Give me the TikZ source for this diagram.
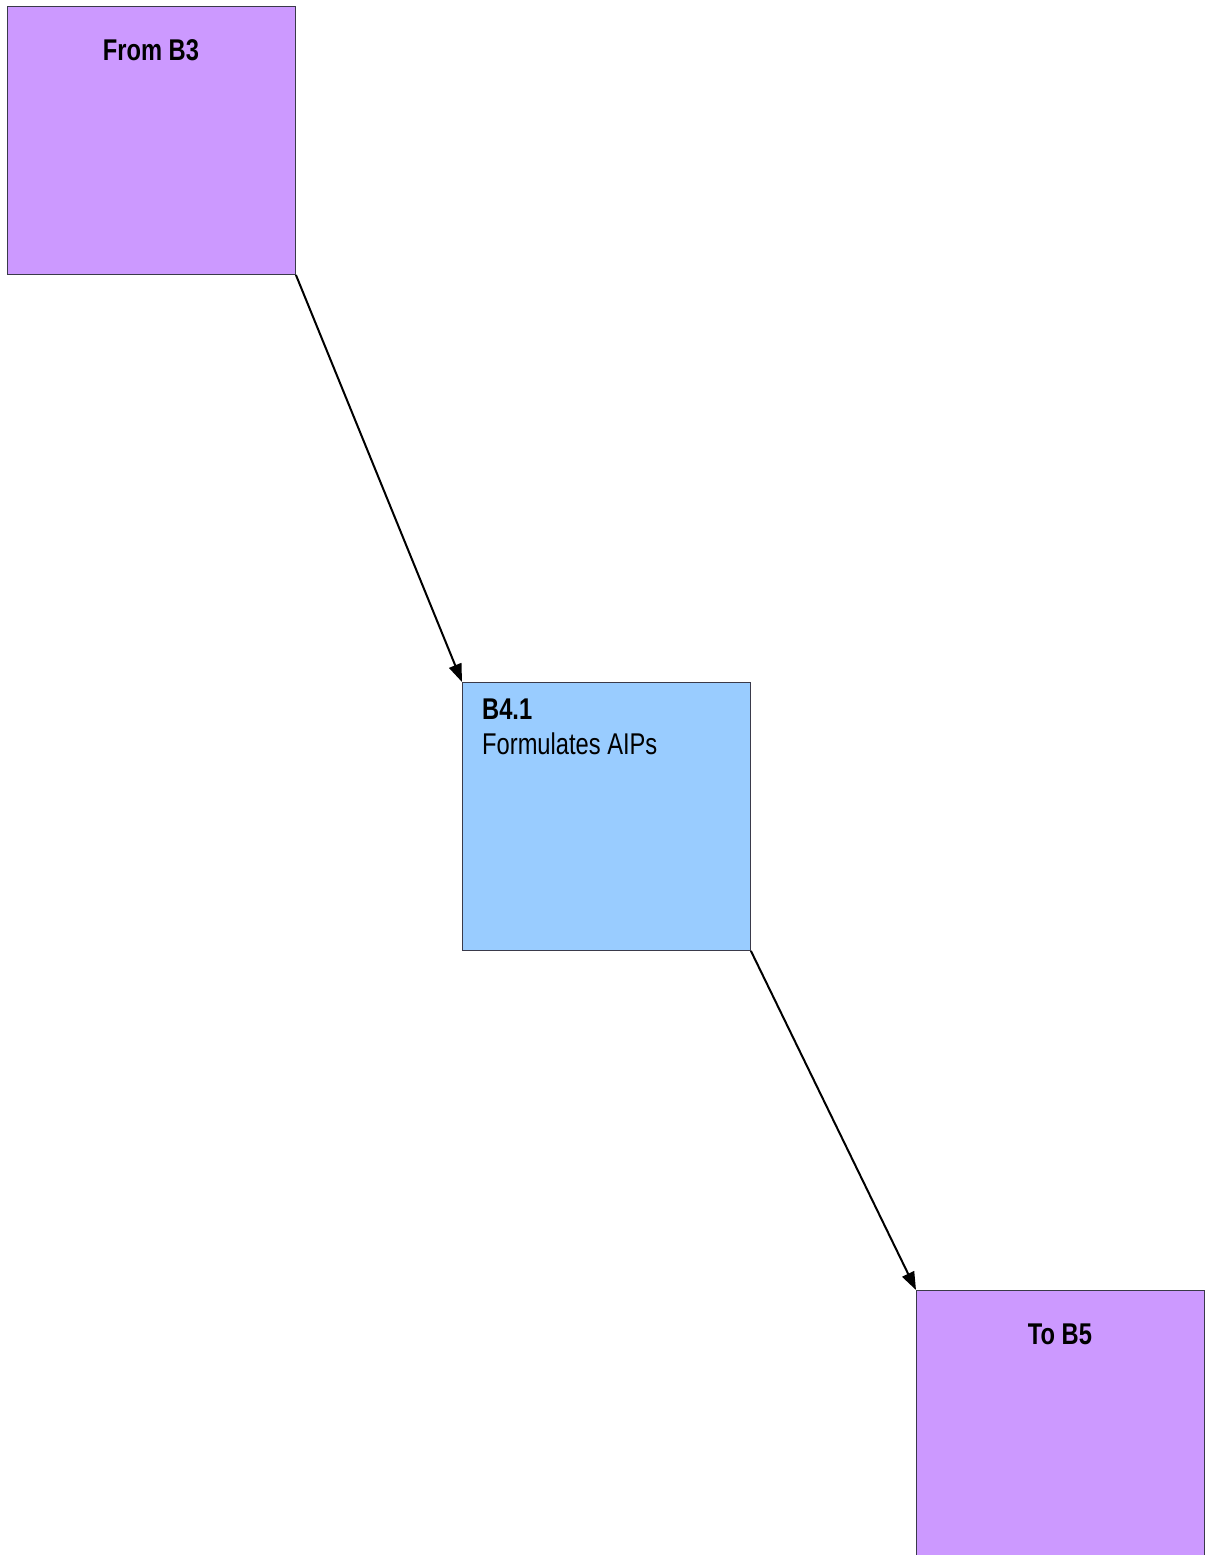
\documentclass[tikz,border=0pt]{standalone}
\usepackage{fontspec}
\newfontfamily\narrowsans{Liberation Sans}[FakeStretch=0.79]
\usepackage{tikz}
\usetikzlibrary{arrows.meta, positioning}

\definecolor{linkpurple}{HTML}{CC99FF}
\definecolor{stepblue}{HTML}{99CCFF}
\definecolor{edgegray}{HTML}{3A3A4A}

\tikzset{
  flowbox/.style={draw=edgegray, line width=0.9pt, rectangle,
                  minimum width=288pt, minimum height=268pt, inner sep=0pt, anchor=north west},
  boxtext/.style={inner sep=0pt, font=\narrowsans\fontsize{30}{36}\selectfont}
}

\begin{document}
\begin{tikzpicture}[>={Triangle[length=18pt, width=13pt]}, x=1pt, y=-1pt]
  \useasboundingbox (0,0) rectangle (1207,1555);

  % Incoming link
  \node[flowbox, fill=linkpurple] (fromb) at (7,6) {};
  \node[boxtext, anchor=base] (frombtext) at (151,61) {\bfseries From B3};

  % Process step
  \node[flowbox, fill=stepblue] (aips) at (462,682) {};
  \node[boxtext, anchor=base west] (aipsid) at (482,719) {\bfseries B4.1};
  \node[boxtext, anchor=base west] (aipsname) at (482,754) {Formulates AIPs};

  % Outgoing link
  \node[flowbox, fill=linkpurple] (tob) at (916,1290) {};
  \node[boxtext, anchor=base] (tobtext) at (1060,1344) {\bfseries To B5};

  % Connectors
  \draw[->, line width=2pt] (fromb.south east) -- (aips.north west);
  \draw[->, line width=2pt] (aips.south east) -- (tob.north west);
\end{tikzpicture}
\end{document}
